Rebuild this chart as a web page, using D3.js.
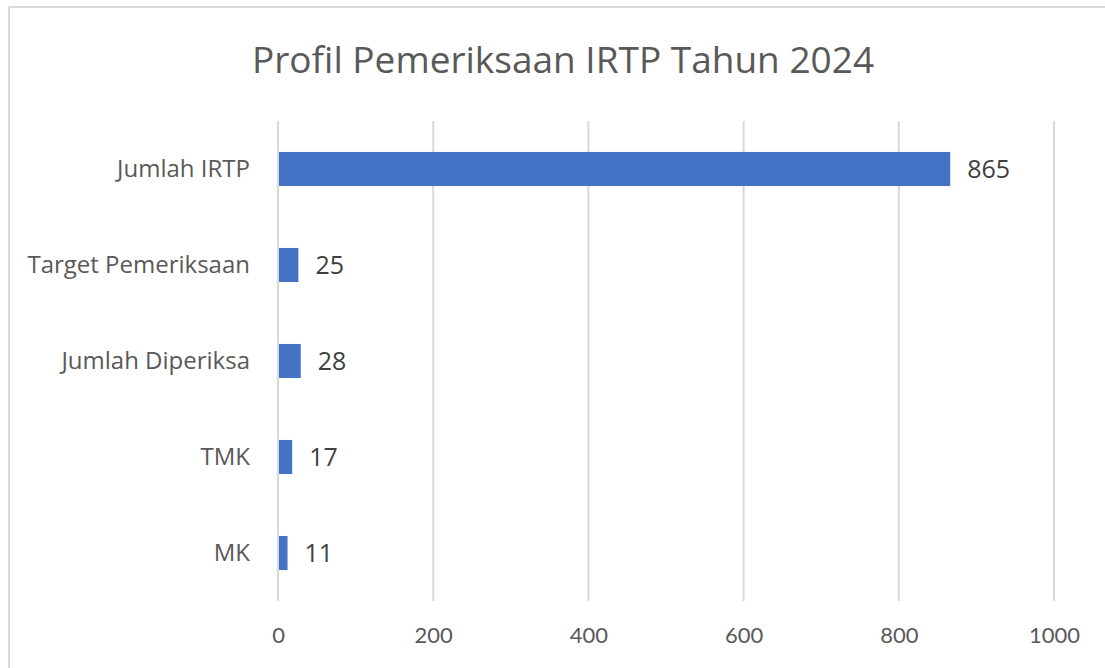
<!DOCTYPE html>
<html>
<head>
<meta charset="utf-8">
<script src="https://cdn.jsdelivr.net/npm/d3@7"></script>
<style>
  body { margin: 0; background: #fff; }
  text { font-family: "Open Sans", "Noto Sans", sans-serif; fill: #595959; }
</style>
</head>
<body>
<div id="chart"></div>
<script>
// data
var categories = ["Jumlah IRTP", "Target Pemeriksaan", "Jumlah Diperiksa", "TMK", "MK"];
var values = [865, 25, 28, 17, 11];
var xTicks = [0, 200, 400, 600, 800, 1000];
var chartTitle = "Profil Pemeriksaan IRTP Tahun 2024";

var width = 1105,
    height = 668;

var margin = {top: 121, right: 51, bottom: 67, left: 278};

var svg = d3.select("#chart")
    .append("svg")
    .attr("width", width)
    .attr("height", height);

// chart frame (only top and left edges show in the picture)
svg.append("line")
    .attr("x1", 9).attr("x2", width)
    .attr("y1", 7).attr("y2", 7)
    .attr("stroke", "#d9d9d9").attr("stroke-width", 2);
svg.append("line")
    .attr("x1", 9).attr("x2", 9)
    .attr("y1", 7).attr("y2", height)
    .attr("stroke", "#d9d9d9").attr("stroke-width", 2);

svg.append("text")
    .attr("x", 563)
    .attr("y", 73)
    .attr("text-anchor", "middle")
    .style("font-size", "37px")
    .text(chartTitle);

var x = d3.scaleLinear()
    .domain([0, 1000])
    .range([margin.left, width - margin.right]);

var y = d3.scaleBand()
    .domain(categories)
    .range([margin.top, height - margin.bottom])
    .paddingInner(0.645)
    .paddingOuter(0.3225);

// vertical gridlines
svg.append("g")
    .selectAll("line")
    .data(xTicks)
    .enter()
    .append("line")
    .attr("x1", d => x(d)).attr("x2", d => x(d))
    .attr("y1", margin.top).attr("y2", height - margin.bottom)
    .attr("stroke", "#d9d9d9")
    .attr("stroke-width", 2);

// x axis labels
var xAxis = svg.append("g")
    .attr("transform", "translate(0," + (height - margin.bottom) + ")")
    .call(d3.axisBottom(x).tickValues(xTicks).tickSize(0).tickPadding(26).tickFormat(d3.format("d")));
xAxis.select(".domain").remove();
xAxis.selectAll("text")
    .style("font-size", "22px")
    .style("font-family", "Lato, 'Open Sans', sans-serif")
    .attr("fill", "#595959");

// category labels
var yAxis = svg.append("g")
    .attr("transform", "translate(" + margin.left + ",0)")
    .call(d3.axisLeft(y).tickSize(0).tickPadding(28));
yAxis.select(".domain").remove();
yAxis.selectAll("text")
    .style("font-size", "24px")
    .attr("fill", "#595959");

// bars
svg.append("g")
    .selectAll("rect")
    .data(values)
    .enter()
    .append("rect")
    .attr("x", x(0) + 1)
    .attr("y", (d, i) => y(categories[i]))
    .attr("width", d => x(d) - x(0))
    .attr("height", y.bandwidth())
    .attr("fill", "#4472c4");

// value labels
svg.append("g")
    .selectAll("text")
    .data(values)
    .enter()
    .append("text")
    .attr("x", d => x(d) + 18)
    .attr("y", (d, i) => y(categories[i]) + y.bandwidth() / 2)
    .attr("dy", "0.36em")
    .style("font-size", "25px")
    .style("fill", "#404040")
    .text(d => d);
</script>
</body>
</html>
